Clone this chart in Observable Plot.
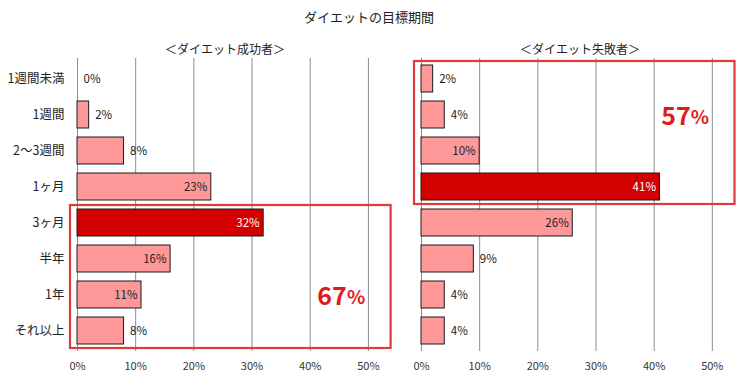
<!DOCTYPE html>
<html><head><meta charset="utf-8">
<script src="https://cdn.jsdelivr.net/npm/d3@7"></script>
<script src="https://cdn.jsdelivr.net/npm/@observablehq/plot@0.6"></script>
<style>
body{margin:0;background:#fff;}
#wrap{position:relative;width:738px;height:376px;font-family:"Noto Sans CJK JP",sans-serif;color:#222;overflow:hidden;}
.t{position:absolute;text-align:center;white-space:nowrap;}
#title{left:0;width:738px;top:7px;font-size:13px;}
#sub1{left:125px;width:200px;top:40px;font-size:12px;}
#sub2{left:480px;width:200px;top:40px;font-size:12px;}
#p1{position:absolute;left:0;top:40px;}
#p2{position:absolute;left:400px;top:40px;}
</style></head>
<body><div id="wrap">
<div id="title" class="t">ダイエットの目標期間</div>
<div id="sub1" class="t">＜ダイエット成功者＞</div>
<div id="sub2" class="t">＜ダイエット失敗者＞</div>
<div id="p1"></div><div id="p2"></div>
</div>
<script>
const categories = ["1週間未満","1週間","2〜3週間","1ヶ月","3ヶ月","半年","1年","それ以上"];
const successValues = [0,2,8,23,32,16,11,8];
const failureValues = [2,4,10,41,26,9,4,4];
const xTicks = [0,10,20,30,40,50];
const successHighlight = "3ヶ月";
const failureHighlight = "1ヶ月";
const successGroup = ["3ヶ月","半年","1年","それ以上"];
const failureGroup = ["1週間未満","1週間","2〜3週間","1ヶ月"];
const successTotal = "67";
const failureTotal = "57";
const successTotalRow = "1年";
const failureTotalRow = "1週間";

const font = '"Noto Sans CJK JP", sans-serif';
function panel(el, opts) {
  const {values, highlight, group, total, totalRow, showY, width, marginLeft, marginRight, domainMax} = opts;
  const data = categories.map((c,i)=>({c, v: values[i], hi: c===highlight}));
  const marks = [
    Plot.ruleX(xTicks, {stroke:"#8c8c8c", strokeWidth:1}),
    Plot.barX(data, {x:"v", y:"c", fill: d=>d.hi?"#D40000":"#FF9999", stroke:"#1a1a1a", strokeWidth:1}),
    Plot.text(data.filter(d=>d.v>=10), {x:"v", y:"c", text: d=>d.v+"%", textAnchor:"end", dx:-4, fill: d=>d.hi?"#ffffff":"#222", fontSize:11.5}),
    Plot.text(data.filter(d=>d.v<10), {x:"v", y:"c", text: d=>d.v+"%", textAnchor:"start", dx:6, fill:"#222", fontSize:11.5}),
    Plot.text([total], {x:()=>46.3, y:()=>totalRow, text:d=>d, textAnchor:"end", fill:"#E01B1B", fontSize:25, fontWeight:"bold", dy:2}),
    Plot.text(["%"], {x:()=>46.3, y:()=>totalRow, text:d=>d, textAnchor:"start", fill:"#E01B1B", fontSize:19, fontWeight:"bold", dy:3}),
    Plot.axisX({ticks:xTicks, tickFormat:d=>d+"%", tickSize:0, tickPadding:11, fontSize:11, label:null, fill:"#333"})
  ];
  if (showY) marks.push(Plot.axisY({tickSize:0, tickPadding:13, fontSize:12.5, label:null}));
  const chart = Plot.plot({
    width, height:336, marginTop:18, marginBottom:25, marginLeft, marginRight,
    x:{domain:[0,domainMax]},
    y:{domain:categories, paddingInner:0.25, paddingOuter:0.125, axis: showY ? undefined : null},
    style:{fontFamily:font, color:"#222", background:"transparent"},
    marks
  });
  const xs = chart.scale("x"), ys = chart.scale("y");
  const gap = (ys.step - ys.bandwidth)/2 - 0.5;
  const top = ys.apply(group[0]) - gap;
  const bottom = ys.apply(group[group.length-1]) + ys.bandwidth + gap;
  const left = xs.apply(0) - 7;
  const right = xs.apply(53.9);
  d3.select(chart).append("rect")
    .attr("x", left).attr("y", top).attr("width", right-left).attr("height", bottom-top)
    .attr("fill","none").attr("stroke","#DE3B3B").attr("stroke-width",2.2);
  document.getElementById(el).appendChild(chart);
}
panel("p1", {values:successValues, highlight:successHighlight, group:successGroup, total:successTotal, totalRow:successTotalRow, showY:true, width:400, marginLeft:77, marginRight:3, domainMax:55});
panel("p2", {values:failureValues, highlight:failureHighlight, group:failureGroup, total:failureTotal, totalRow:failureTotalRow, showY:false, width:338, marginLeft:21, marginRight:0, domainMax:54.5});
</script>
</body></html>
